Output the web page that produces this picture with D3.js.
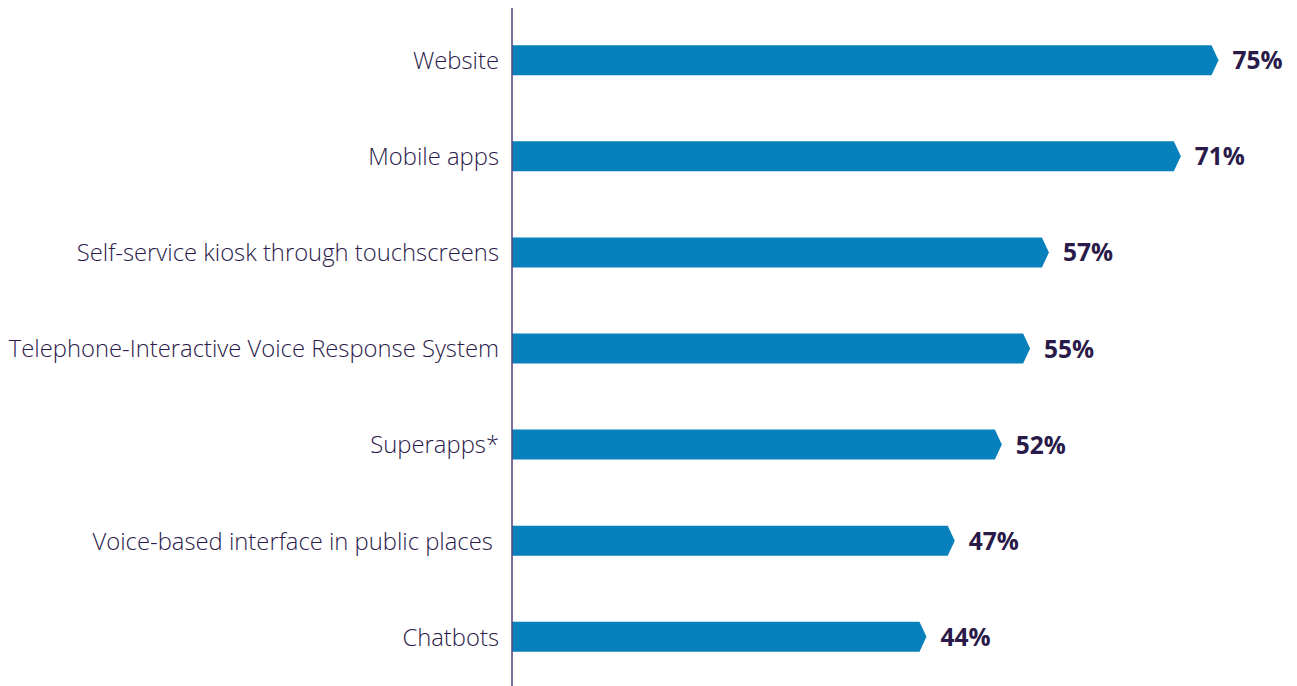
<!DOCTYPE html>
<html><head><meta charset="utf-8">
<script src="https://cdn.jsdelivr.net/npm/d3@7"></script>
<style>
html,body{margin:0;padding:0;background:#fff;}
svg{display:block;}
</style></head>
<body>
<svg id="chart" width="1297" height="686"></svg>
<script>
const categories = ["Website","Mobile apps","Self-service kiosk through touchscreens","Telephone-Interactive Voice Response System","Superapps*","Voice-based interface in public places ","Chatbots"];
const values = [75,71,57,55,52,47,44];
const valueLabels = ["75%","71%","57%","55%","52%","47%","44%"];

const svg = d3.select("#chart");
const axisX = 512;
const x = d3.scaleLinear().domain([0,100]).range([axisX, axisX+942]);
const y = d3.scaleBand().domain(categories).range([13, 685]).paddingInner(0.6875).paddingOuter(0.34);
const bh = 30, tip = 7;
const barColor = "#0880bb", textColor = "#2a1a4a";

const rows = svg.selectAll("g.row").data(categories).enter().append("g").attr("class","row");
rows.append("path")
  .attr("fill", barColor)
  .attr("d", (d,i)=>{
    const cy = y(d)+y.bandwidth()/2 - 0.5;
    const x0 = x(0), x1 = x(values[i]);
    return `M${x0},${cy-bh/2}L${x1-tip},${cy-bh/2}L${x1},${cy}L${x1-tip},${cy+bh/2}L${x0},${cy+bh/2}Z`;
  });
rows.append("text")
  .attr("x", axisX-13)
  .attr("y", d=>y(d)+y.bandwidth()/2)
  .attr("dy","0.35em")
  .attr("text-anchor","end")
  .style("white-space","pre")
  .attr("font-family","'Open Sans', sans-serif")
  .attr("font-weight",300)
  .attr("font-size",23.8)
  .attr("fill",textColor)
  .text(d=>d);
rows.append("text")
  .attr("x",(d,i)=>x(values[i])+14)
  .attr("y", d=>y(d)+y.bandwidth()/2)
  .attr("dy","0.35em")
  .attr("font-family","'Open Sans', sans-serif")
  .attr("font-weight",700)
  .attr("font-size",24.5)
  .attr("fill",textColor)
  .text((d,i)=>valueLabels[i]);

svg.append("line")
  .attr("x1",axisX).attr("x2",axisX)
  .attr("y1",8).attr("y2",686)
  .attr("stroke","#5a4a86").attr("stroke-width",1.6);
</script>
</body></html>
